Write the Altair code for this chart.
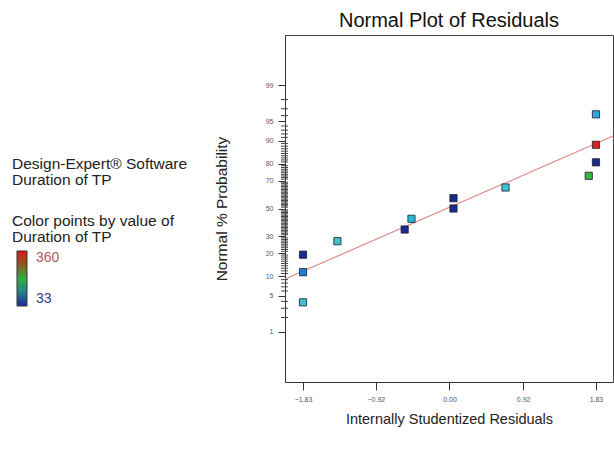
import altair as alt
import pandas as pd
from statistics import NormalDist

# ---- data ----
resid = [-1.83, -1.83, -1.83, -1.40, -0.56, -0.475, 0.05, 0.05, 0.70, 1.74, 1.83, 1.83, 1.83]
prob = [3.85, 11.5, 19.2, 26.9, 34.6, 42.3, 50.0, 57.7, 65.4, 73.1, 80.8, 88.5, 96.2]
duration = [110, 60, 33, 110, 33, 100, 33, 33, 110, 200, 33, 360, 85]

fit_x = [-2.055, 2.043]
fit_p = [9.2, 91.4]

major_p = [1, 5, 10, 20, 30, 50, 70, 80, 90, 95, 99]
minor_p = [2, 3, 4, 6, 7, 8, 9, 11, 12, 13, 14, 15, 16, 17, 18, 19, 21, 22, 23, 24, 25, 26, 27, 28, 29,
           31, 32, 33, 34, 35, 36, 37, 38, 39, 40, 41, 42, 43, 44, 45, 46, 47, 48, 49, 51, 52, 53, 54, 55,
           56, 57, 58, 59, 60, 61, 62, 63, 64, 65, 66, 67, 68, 69, 71, 72, 73, 74, 75, 76, 77, 78, 79, 81,
           82, 83, 84, 85, 86, 87, 88, 89, 91, 92, 93, 94, 96, 97, 98]
x_ticks = [-1.83, -0.92, 0.0, 0.92, 1.83]
x_lo, x_hi = -2.055, 2.043

color_domain = [33, 60, 85, 110, 200, 360]
color_range = ["#1b2a8f", "#1f7fd6", "#2ca6e0", "#3fc0cc", "#33b24a", "#e41e1e"]

FONT = "Liberation Sans"

pts = pd.DataFrame({"resid": resid, "prob": prob, "duration": duration})
fit = pd.DataFrame({"resid": fit_x, "prob": fit_p})
minor = pd.DataFrame({"prob": minor_p})

nd = NormalDist()
major_z = [nd.inv_cdf(p / 100) for p in major_p]

xscale = alt.Scale(domain=[x_lo, x_hi], nice=False, zero=False)
yscale = alt.Scale(domain=[-3.27, 3.27], nice=False, zero=False)

xaxis = alt.Axis(values=x_ticks, format=".2f", tickSize=8, labelFontSize=7, labelColor="#555",
                 labelFont=FONT, domainColor="#333", tickColor="#333", grid=False,
                 title="Internally Studentized Residuals", titleFont=FONT, titleFontSize=14.5,
                 titleFontWeight="normal", titleColor="#222", titlePadding=10, labelPadding=5)
yaxis = alt.Axis(values=major_z, labelExpr="round(cumulativeNormal(datum.value)*100)",
                 tickSize=7, labelFontSize=7, labelColor="#555", labelFont=FONT,
                 domainColor="#333", tickColor="#333", grid=False,
                 title="Normal % Probability", titleFont=FONT, titleFontSize=15.5,
                 titleFontWeight="normal", titleColor="#222", titlePadding=36, labelPadding=5)

zcalc = "quantileNormal(datum.prob/100)"

# minor ticks: short horizontal rules straddling the axis line
minor_ticks = alt.Chart(minor).transform_calculate(z=zcalc).mark_rule(
    color="#444", strokeWidth=1, clip=False
).encode(
    y=alt.Y("z:Q", scale=yscale, axis=yaxis),
    x=alt.value(-4), x2=alt.value(3),
)

line = alt.Chart(fit).transform_calculate(z=zcalc).mark_line(
    color="#e08a8a", strokeWidth=1.2
).encode(
    x=alt.X("resid:Q", scale=xscale, axis=xaxis),
    y=alt.Y("z:Q", scale=yscale, axis=yaxis),
)

points = alt.Chart(pts).transform_calculate(z=zcalc).mark_square(
    size=52, opacity=1, stroke="#1a2030", strokeWidth=1, strokeOpacity=0.8
).encode(
    x=alt.X("resid:Q", scale=xscale, axis=xaxis),
    y=alt.Y("z:Q", scale=yscale, axis=yaxis),
    color=alt.Color("duration:Q", scale=alt.Scale(domain=color_domain, range=color_range), legend=None),
)

one = alt.Data(values=[{}])

def label(txt, x, y, size=14, color="#222", lh=16):
    return alt.Chart(one).mark_text(
        text=txt, align="left", baseline="alphabetic", font=FONT, fontSize=size,
        color=color, lineBreak="\n", lineHeight=lh
    ).encode(x=alt.value(x), y=alt.value(y))

t1 = label("Design-Expert® Software\nDuration of TP", -273, 134, size=15.5, lh=16)
t2 = label("Color points by value of\nDuration of TP", -273, 191, size=15.5, lh=15.5)
t360 = label("360", -249, 227, color="#b05a5a")
t33 = label("33", -249, 268, color="#303a8a")

grad = alt.Chart(one).mark_rect(
    stroke="#333", strokeWidth=1,
    fill={"gradient": "linear", "x1": 0, "y1": 1, "x2": 0, "y2": 0,
          "stops": [{"offset": 0, "color": "#22269a"}, {"offset": 0.25, "color": "#25808a"},
                    {"offset": 0.5, "color": "#30b040"}, {"offset": 0.75, "color": "#8a5a20"},
                    {"offset": 1, "color": "#e01818"}]}
).encode(x=alt.value(-268), x2=alt.value(-258), y=alt.value(216), y2=alt.value(271))

chart = alt.layer(line, points, minor_ticks, grad, t1, t2, t360, t33).properties(
    width=328, height=347,
    padding={"left": 285, "top": 35, "right": 1, "bottom": 74},
    autosize=alt.AutoSizeParams(type="none"),
    background="white",
    title=alt.TitleParams("Normal Plot of Residuals", font=FONT, fontSize=20, fontWeight="normal",
                          color="#111", anchor="middle", offset=4),
).configure_view(stroke="#444", strokeWidth=1)

chart.save("out.html", embed_options={"renderer": "svg", "actions": False})
